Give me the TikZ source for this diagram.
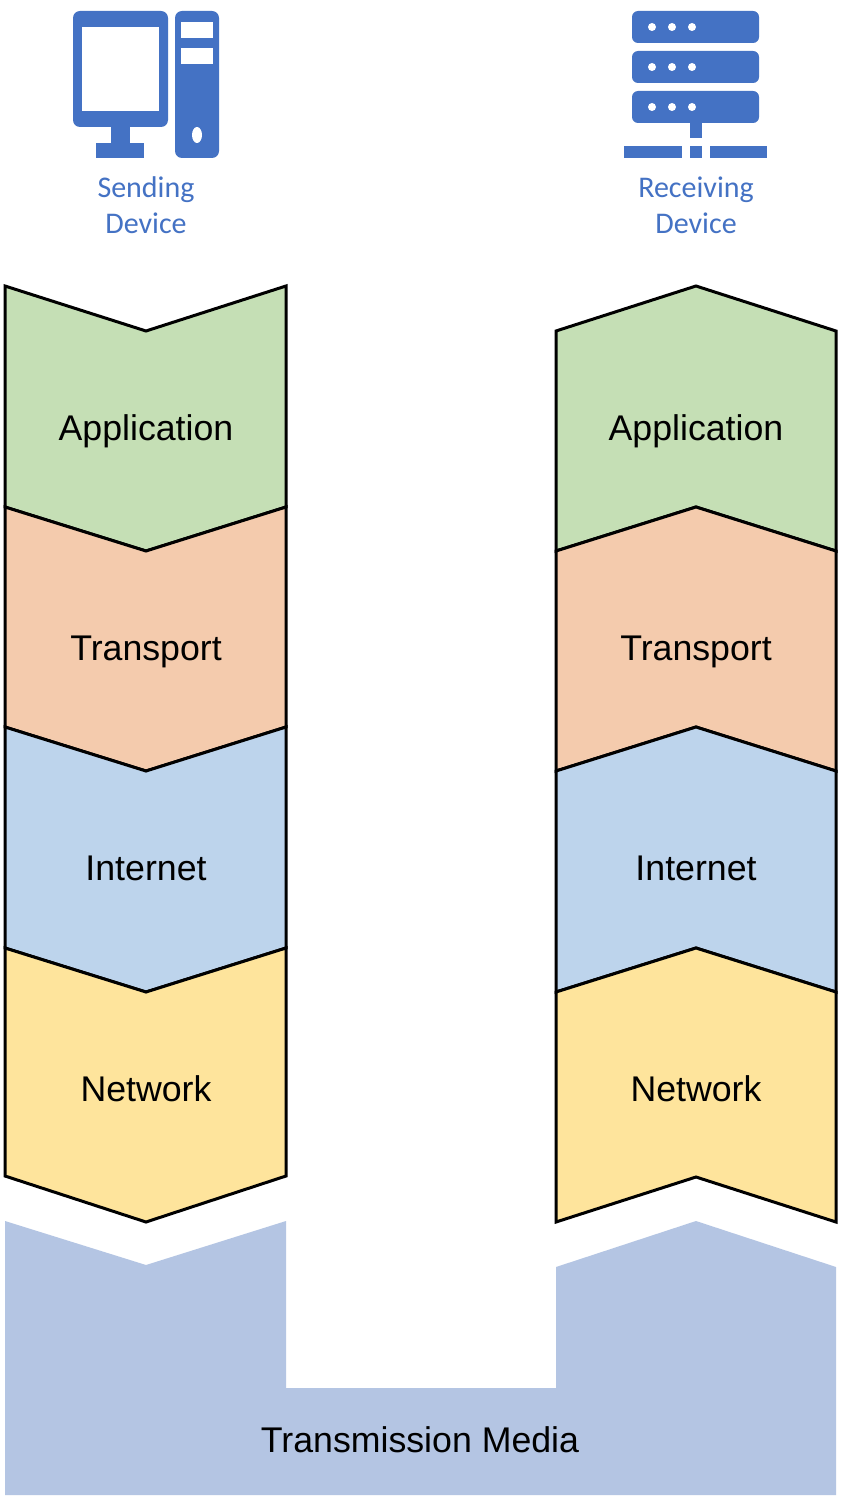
\documentclass[tikz,border=0pt]{standalone}
\usepackage{fontspec}
\setmainfont{Carlito}
\newfontfamily\layerfont{Liberation Sans}
\definecolor{iconblue}{HTML}{4472C4}
\definecolor{mediablue}{HTML}{B4C5E3}
\definecolor{appgreen}{HTML}{C5DFB5}
\definecolor{transorange}{HTML}{F4CBAD}
\definecolor{netblue}{HTML}{BDD4EC}
\definecolor{linkyellow}{HTML}{FEE49C}
\tikzset{
	layer/.style={draw=black,line width=3pt,line join=miter},
	layertext/.style={inner sep=0pt,anchor=base,font=\layerfont\fontsize{35.7}{36}\selectfont,text=black},
	devicetext/.style={inner sep=0pt,anchor=base,font=\fontsize{30}{36}\selectfont,text=iconblue},
	icon/.style={fill=iconblue,draw=none},
	hole/.style={fill=white,draw=none}
}
\begin{document}
\begin{tikzpicture}[x=1pt,y=-1pt]
	\useasboundingbox (0,0) rectangle (848,1506);
	\fill[white] (0,0) rectangle (848,1506);
	% sending side
	\foreach \ytop/\ymid/\ybot/\ytip/\col in {286/331/507/551/appgreen,507/551/727/771/transorange,727/771/948/992/netblue,948/992/1176/1222/linkyellow}{
		\draw[layer,fill=\col] (5,\ytop) -- (146,\ymid) -- (286,\ytop) -- (286,\ybot) -- (146,\ytip) -- (5,\ybot) -- cycle;
	}
	% receiving side
	\foreach \ytop/\ymid/\ybot/\ytip/\col in {286/331/507/551/appgreen,507/551/727/771/transorange,727/771/948/992/netblue,948/992/1177/1222/linkyellow}{
		\draw[layer,fill=\col] (556,\ymid) -- (696,\ytop) -- (836,\ymid) -- (836,\ytip) -- (696,\ybot) -- (556,\ytip) -- cycle;
	}
	\foreach \name/\txt/\y in {app/Application/440,trans/Transport/660,inter/Internet/880,net/Network/1101}{
		\node[layertext] (\name L) at (146,\y) {\txt};
		\node[layertext] (\name R) at (696,\y) {\txt};
	}
	% media
	\fill[mediablue] (5,1221) -- (146,1265) -- (286,1221) -- (286,1388) -- (556,1388) -- (556,1267) -- (696,1221) -- (836,1267) -- (836,1495) -- (5,1495) -- cycle;
	\node[layertext] (media) at (420,1452) {Transmission Media};
	% computer
	\fill[icon,rounded corners=7pt] (73,11) rectangle (168,127);
	\fill[hole] (82,27) rectangle (159,111);
	\fill[icon] (111,126) rectangle (130,143);
	\fill[icon] (96,143) rectangle (144,158);
	\fill[icon,rounded corners=7pt] (175,11) rectangle (219,158);
	\fill[hole] (181,22) rectangle (213,38);
	\fill[hole] (181,48) rectangle (213,64);
	\fill[hole] (197,135) ellipse [x radius=5pt,y radius=8pt];
	\node[devicetext] (senderA) at (146,198) {Sending};
	\node[devicetext] (senderB) at (146,234) {Device};
	% server
	\foreach \y in {11,51,91}{
		\fill[icon,rounded corners=6pt] (632,\y) rectangle (759,\y+32);
		\foreach \x in {652,672,692}{
			\fill[hole] (\x,\y+16) circle (4pt);
		}
	}
	\fill[icon] (690,123) rectangle (702,138);
	\fill[icon] (690,146) rectangle (702,158);
	\fill[icon] (624,146) rectangle (682,158);
	\fill[icon] (710,146) rectangle (767,158);
	\node[devicetext] (receiverA) at (696,198) {Receiving};
	\node[devicetext] (receiverB) at (696,234) {Device};
\end{tikzpicture}
\end{document}
